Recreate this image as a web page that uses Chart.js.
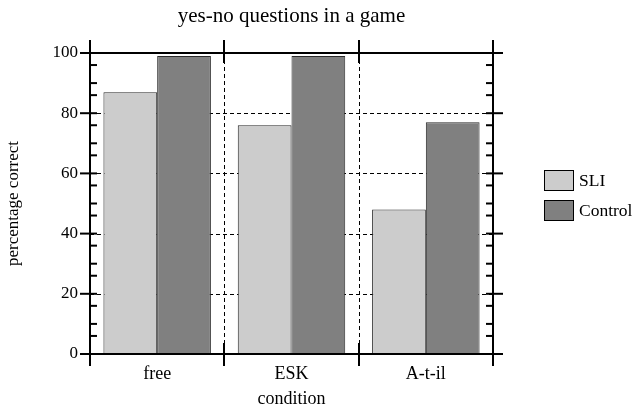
<!DOCTYPE html>
<html>
<head>
<meta charset="utf-8">
<script src="https://cdn.jsdelivr.net/npm/chart.js@4/dist/chart.umd.min.js"></script>
<style>
  html, body { margin: 0; padding: 0; background: #fff; }
  #wrap { width: 636px; height: 411px; }
</style>
</head>
<body>
<div id="wrap"><canvas id="c" width="636" height="411"></canvas></div>
<script>
// Data
const chartTitle = 'yes-no questions in a game';
const categories = ['free', 'ESK', 'A-t-il'];
const sliValues = [87, 76, 48];
const controlValues = [99, 99, 77];
const yTickValues = [0, 20, 40, 60, 80, 100];
const minorOffsets = [6, 10, 16];
const xTitle = 'condition';
const yTitle = 'percentage correct';

const FONT = "'Liberation Serif', 'Times New Roman', serif";

function seg(ctx, x1, y1, x2, y2) {
  ctx.beginPath();
  ctx.moveTo(x1, y1);
  ctx.lineTo(x2, y2);
  ctx.stroke();
}

// Dashed grid behind the bars, boxed frame with ticks, title and legend on top
const framePlugin = {
  id: 'frame',
  beforeDatasetsDraw(chart) {
    const { ctx, chartArea: a, scales: { x, y } } = chart;
    ctx.save();
    ctx.strokeStyle = '#000';
    ctx.lineWidth = 1;
    ctx.setLineDash([4, 3]);
    yTickValues.forEach(v => {
      if (v > y.min && v < y.max) {
        const py = Math.round(y.getPixelForValue(v)) + 0.5;
        seg(ctx, a.left, py, a.right, py);
      }
    });
    for (let i = 1; i < categories.length; i++) {
      const px = Math.round((x.getPixelForValue(i - 1) + x.getPixelForValue(i)) / 2) + 0.5;
      seg(ctx, px, a.top, px, a.bottom);
    }
    ctx.restore();
  },
  afterDatasetsDraw(chart) {
    const { ctx, chartArea: a, scales: { x, y } } = chart;
    ctx.save();
    ctx.strokeStyle = '#000';
    ctx.lineWidth = 2;
    ctx.setLineDash([]);
    // box
    seg(ctx, a.left, a.top, a.right, a.top);
    seg(ctx, a.left, a.bottom, a.right, a.bottom);
    seg(ctx, a.left, a.top - 13, a.left, a.bottom + 12);
    seg(ctx, a.right, a.top - 13, a.right, a.bottom + 12);
    // category dividers
    for (let i = 1; i < categories.length; i++) {
      const px = Math.round((x.getPixelForValue(i - 1) + x.getPixelForValue(i)) / 2);
      seg(ctx, px, a.top - 13, px, a.top + 10);
      seg(ctx, px, a.bottom - 11, px, a.bottom + 12);
    }
    // major and minor y ticks on both sides
    for (let k = 0; k < yTickValues.length; k++) {
      const v = yTickValues[k];
      const py = y.getPixelForValue(v);
      seg(ctx, a.left - 10, py, a.left + 7, py);
      seg(ctx, a.right - 7, py, a.right + 10, py);
      if (k < yTickValues.length - 1) {
        minorOffsets.forEach(o => {
          const my = y.getPixelForValue(v + o);
          seg(ctx, a.left, my, a.left + 7, my);
          seg(ctx, a.right - 7, my, a.right, my);
        });
      }
    }
    // title
    ctx.fillStyle = '#000';
    ctx.font = '21px ' + FONT;
    ctx.textAlign = 'center';
    ctx.textBaseline = 'alphabetic';
    ctx.fillText(chartTitle, (a.left + a.right) / 2, 22);
    // legend
    ctx.font = '17.5px ' + FONT;
    ctx.textAlign = 'left';
    ctx.textBaseline = 'middle';
    ctx.lineWidth = 1;
    chart.data.datasets.forEach((ds, i) => {
      const bx = 544, by = 170 + i * 30;
      ctx.fillStyle = ds.backgroundColor;
      ctx.fillRect(bx, by, 29, 20);
      ctx.strokeStyle = '#000';
      ctx.strokeRect(bx + 0.5, by + 0.5, 29, 20);
      ctx.fillStyle = '#000';
      ctx.fillText(ds.label, 579, by + 11);
    });
    ctx.restore();
  }
};

new Chart(document.getElementById('c'), {
  type: 'bar',
  data: {
    labels: categories,
    datasets: [
      { label: 'SLI', data: sliValues, backgroundColor: '#cccccc', borderColor: '#2a2a2a', borderWidth: 1, borderSkipped: false },
      { label: 'Control', data: controlValues, backgroundColor: '#808080', borderColor: '#2a2a2a', borderWidth: 1, borderSkipped: false }
    ]
  },
  options: {
    responsive: false,
    animation: false,
    devicePixelRatio: 1,
    layout: { padding: { top: 53, right: 143, bottom: 0, left: 0 } },
    datasets: { bar: { categoryPercentage: 0.8, barPercentage: 1.0 } },
    plugins: {
      legend: { display: false },
      title: { display: false },
      tooltip: { enabled: false }
    },
    scales: {
      x: {
        grid: { display: false, drawTicks: false },
        border: { display: false },
        ticks: { color: '#000', font: { family: FONT, size: 18 }, padding: 9 },
        title: { display: true, text: xTitle, color: '#000', font: { family: FONT, size: 18 }, padding: { top: 0, bottom: 1 } },
        afterFit(s) { s.height = 57; }
      },
      y: {
        min: 0,
        max: 100,
        grid: { display: false, drawTicks: false },
        border: { display: false },
        ticks: { color: '#000', font: { family: FONT, size: 17 }, padding: 12 },
        afterBuildTicks(s) { s.ticks = yTickValues.map(v => ({ value: v })); },
        title: { display: true, text: yTitle, color: '#000', font: { family: FONT, size: 17 }, padding: { top: 3, bottom: 0 } },
        afterFit(s) { s.width = 90; }
      }
    }
  },
  plugins: [framePlugin]
});
</script>
</body>
</html>
